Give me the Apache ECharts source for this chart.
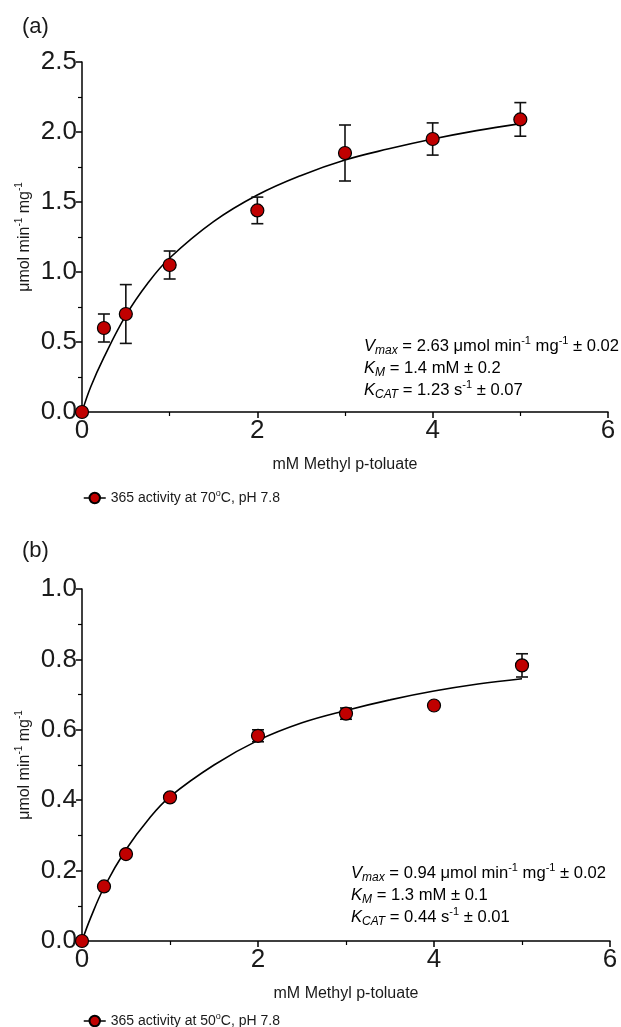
<!DOCTYPE html>
<html>
<head>
<meta charset="utf-8">
<script src="https://cdn.jsdelivr.net/npm/echarts@6.0.0/dist/echarts.min.js"></script>
<style>
  html, body { margin: 0; padding: 0; background: #fff; }
  #chart { width: 621px; height: 1027px; }
</style>
</head>
<body>
<div id="chart"></div>
<script>
// substrate concentrations (mM)
const conc = [0, 0.25, 0.5, 1, 2, 3, 4, 5];
// (a) 70 C
const rate70 = [0, 0.60, 0.70, 1.05, 1.44, 1.85, 1.95, 2.09];
const err70 = [0, 0.10, 0.21, 0.10, 0.095, 0.20, 0.115, 0.12];
// (b) 50 C
const rate50 = [0, 0.155, 0.247, 0.408, 0.583, 0.646, 0.669, 0.783];
const err50 = [0, 0, 0, 0, 0.017, 0.016, 0, 0.033];
// fitted curves
const fitX = [0, 0.1, 0.25, 0.5, 0.75, 1, 1.5, 2, 2.5, 3, 3.5, 4, 4.5, 5];
const fit70 = [0, 0.18, 0.39, 0.69, 0.92, 1.10, 1.36, 1.55, 1.69, 1.80, 1.88, 1.95, 2.01, 2.06];
const fit50 = [0, 0.067, 0.152, 0.26, 0.344, 0.41, 0.50, 0.57, 0.62, 0.655, 0.685, 0.71, 0.73, 0.745];
// axes
const xMax = 6, xStep = 2;
const yMaxA = 2.5, yStepA = 0.5;
const yMaxB = 1.0, yStepB = 0.2;

const FONT = 'Liberation Sans, Arial, sans-serif';
const INK = '#1a1a1a';

let chart = echarts.init(document.getElementById('chart'));

// rich styles for super/subscripts
function richOf(fs) {
    return {
        n: { fontSize: fs, lineHeight: Math.round(fs * 1.3), verticalAlign: 'middle', fontFamily: FONT, color: INK },
        i: { fontSize: fs, lineHeight: Math.round(fs * 1.3), verticalAlign: 'middle', fontStyle: 'italic', fontFamily: FONT, color: INK },
        sup: { fontSize: Math.round(fs * 0.64), lineHeight: Math.round(fs * 0.6), verticalAlign: 'top', fontFamily: FONT, color: INK },
        sub: { fontSize: Math.round(fs * 0.7), lineHeight: Math.round(fs * 0.55), verticalAlign: 'bottom', fontStyle: 'italic', fontFamily: FONT, color: INK }
    };
}

function xAxisOf(idx) {
    return {
        gridIndex: idx,
        type: 'value',
        min: 0, max: xMax, interval: xStep,
        name: 'mM Methyl p-toluate',
        nameLocation: 'middle',
        nameGap: 45,
        nameTextStyle: { fontSize: 16, color: INK, fontFamily: FONT },
        axisLine: { lineStyle: { color: '#000', width: 1.5 } },
        axisTick: { length: 6, lineStyle: { color: '#000', width: 1.5 } },
        minorTick: { show: true, splitNumber: 2, length: 4, lineStyle: { color: '#000', width: 1.2 } },
        axisLabel: { fontSize: 26, color: INK, fontFamily: FONT, margin: 6 },
        splitLine: { show: false }
    };
}

function yAxisOf(idx, max, step) {
    return {
        gridIndex: idx,
        type: 'value',
        min: 0, max: max, interval: step,
        name: '{n|μmol min}{sup|-1}{n| mg}{sup|-1}',
        nameLocation: 'middle',
        nameGap: 47,
        nameMoveOverlap: false,
        nameRotate: 90,
        nameTextStyle: { fontSize: 16, color: INK, fontFamily: FONT, rich: richOf(16) },
        axisLine: { show: true, lineStyle: { color: '#000', width: 1.5 } },
        axisTick: { show: true, length: 6, lineStyle: { color: '#000', width: 1.5 } },
        minorTick: { show: true, splitNumber: 2, length: 4, lineStyle: { color: '#000', width: 1.2 } },
        axisLabel: {
            fontSize: 26, color: INK, fontFamily: FONT, margin: 5,
            formatter: function (v) { return v.toFixed(1); }
        },
        splitLine: { show: false }
    };
}

// error bar custom series
function errBars(idx, ys, es) {
    return {
        type: 'custom',
        xAxisIndex: idx, yAxisIndex: idx,
        silent: true,
        z: 2,
        encode: { x: 0, y: [1, 2] },
        data: conc.map((x, i) => [x, ys[i] - es[i], ys[i] + es[i]]),
        renderItem: function (params, api) {
            let x = api.value(0);
            let lo = api.coord([x, api.value(1)]);
            let hi = api.coord([x, api.value(2)]);
            let w = 6;
            let st = { stroke: '#111', lineWidth: 1.6 };
            return {
                type: 'group',
                children: [
                    { type: 'line', shape: { x1: hi[0], y1: hi[1], x2: lo[0], y2: lo[1] }, style: st },
                    { type: 'line', shape: { x1: hi[0] - w, y1: hi[1], x2: hi[0] + w, y2: hi[1] }, style: st },
                    { type: 'line', shape: { x1: lo[0] - w, y1: lo[1], x2: lo[0] + w, y2: lo[1] }, style: st }
                ]
            };
        }
    };
}

function fitLine(idx, ys) {
    return {
        type: 'line',
        xAxisIndex: idx, yAxisIndex: idx,
        silent: true,
        smooth: 0.4,
        symbol: 'none',
        z: 1,
        lineStyle: { color: '#000', width: 1.6 },
        data: fitX.map((x, i) => [x, ys[i]])
    };
}

function dots(idx, name, ys) {
    return {
        type: 'line',
        name: name,
        xAxisIndex: idx, yAxisIndex: idx,
        silent: true,
        symbol: 'circle',
        symbolSize: 13,
        z: 5,
        lineStyle: { width: 0 },
        itemStyle: { color: '#C00000', borderColor: '#000', borderWidth: 1.2 },
        data: conc.map((x, i) => [x, ys[i]])
    };
}

function legendOf(name, label, top) {
    return {
        data: [name],
        left: 78,
        top: top,
        itemWidth: 22,
        itemHeight: 13,
        lineStyle: { color: '#000', width: 1.5 },
        selectedMode: false,
        formatter: function () { return label; },
        textStyle: { fontSize: 14, color: INK, fontFamily: FONT, rich: richOf(14) }
    };
}

let option = {
    animation: false,
    backgroundColor: '#fff',
    grid: [
        { left: 82, top: 62, width: 526, height: 350 },
        { left: 82, top: 589, width: 528, height: 352 }
    ],
    xAxis: [xAxisOf(0), xAxisOf(1)],
    yAxis: [yAxisOf(0, yMaxA, yStepA), yAxisOf(1, yMaxB, yStepB)],
    legend: [
        legendOf('a70', '{n|365 activity at 70}{sup|o}{n|C, pH 7.8}', 484),
        legendOf('b50', '{n|365 activity at 50}{sup|o}{n|C, pH 7.8}', 1007)
    ],
    graphic: [
        { type: 'text', left: 22, top: 16, style: { text: '(a)', font: '22px ' + FONT, fill: INK } },
        { type: 'text', left: 22, top: 540, style: { text: '(b)', font: '22px ' + FONT, fill: INK } },
        {
            type: 'text', left: 364, top: 335,
            style: {
                text: '{i|V}{sub|max}{n| = 2.63 μmol min}{sup|-1}{n| mg}{sup|-1}{n| ± 0.02}\n' +
                      '{i|K}{sub|M}{n| = 1.4 mM ± 0.2}\n' +
                      '{i|K}{sub|CAT}{n| = 1.23 s}{sup|-1}{n| ± 0.07}',
                rich: richOf(16.6)
            }
        },
        {
            type: 'text', left: 351, top: 862,
            style: {
                text: '{i|V}{sub|max}{n| = 0.94 μmol min}{sup|-1}{n| mg}{sup|-1}{n| ± 0.02}\n' +
                      '{i|K}{sub|M}{n| = 1.3 mM ± 0.1}\n' +
                      '{i|K}{sub|CAT}{n| = 0.44 s}{sup|-1}{n| ± 0.01}',
                rich: richOf(16.6)
            }
        }
    ],
    series: [
        fitLine(0, fit70),
        errBars(0, rate70, err70),
        dots(0, 'a70', rate70),
        fitLine(1, fit50),
        errBars(1, rate50, err50),
        dots(1, 'b50', rate50)
    ]
};
chart.setOption(option);
</script>
</body>
</html>
